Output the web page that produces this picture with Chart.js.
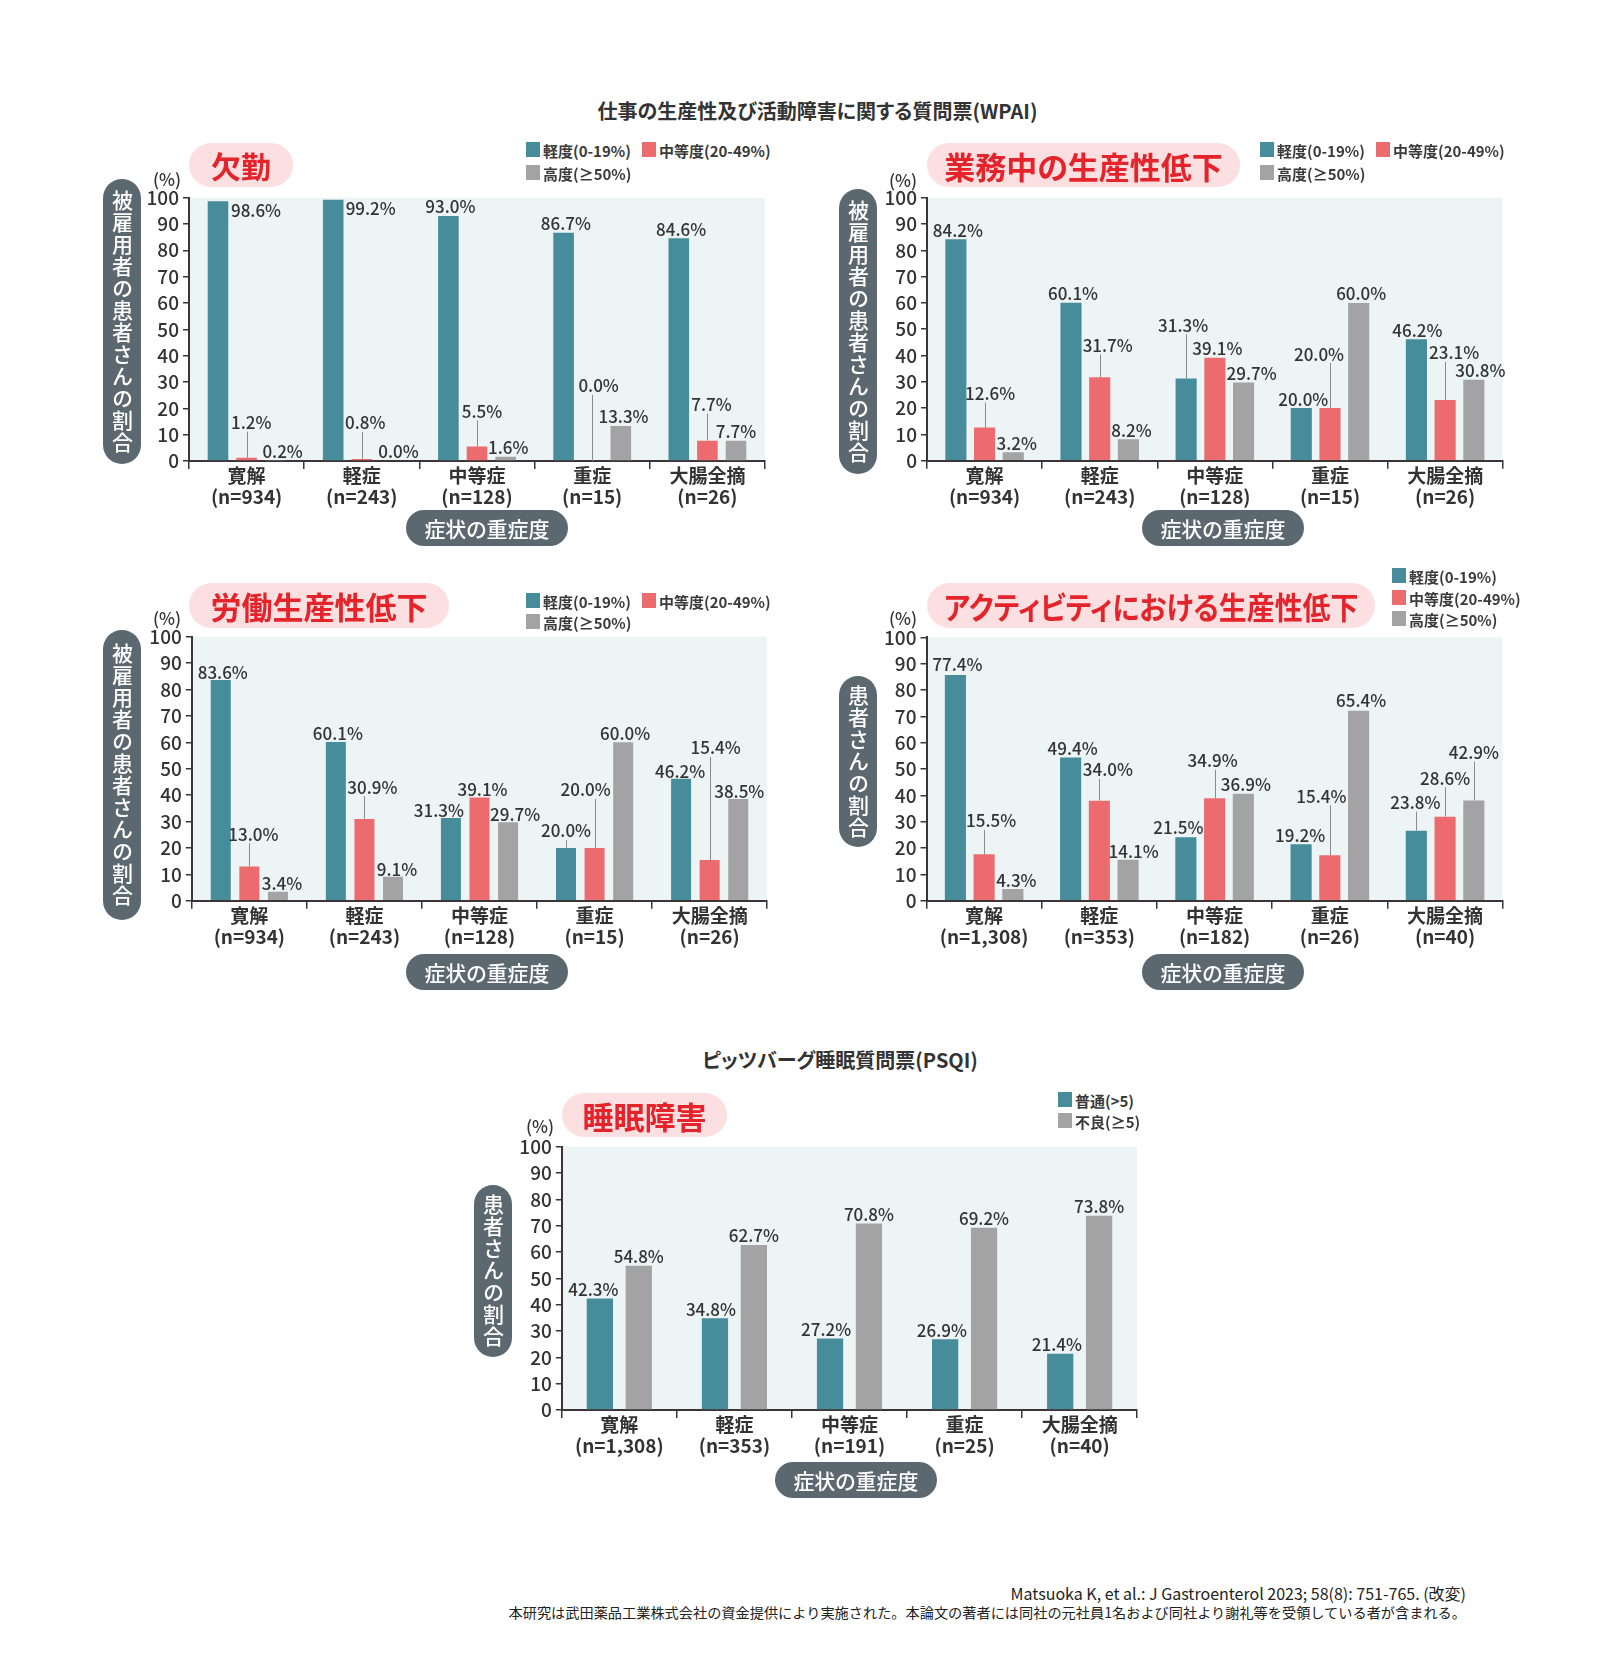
<!DOCTYPE html>
<html><head><meta charset="utf-8">
<script src="https://cdn.jsdelivr.net/npm/chart.js@4.4.1/dist/chart.umd.min.js"></script>
<style>
html,body{margin:0;padding:0;background:#fff;}
#page{position:relative;width:1606px;height:1666px;overflow:hidden;font-family:"Noto Sans CJK JP","Noto Sans",sans-serif;color:#333;font-feature-settings:"palt";}
canvas{position:absolute;}
.ttl{position:absolute;font-weight:700;font-size:20px;white-space:nowrap;text-align:center;color:#333;line-height:1;}
.pill{position:absolute;background:#fce0e1;color:#e4232b;font-weight:700;display:flex;align-items:center;justify-content:center;white-space:nowrap;line-height:1;}
.pill span{display:inline-block;}
.ypill{position:absolute;background:#5c6870;color:#fff;writing-mode:vertical-rl;display:flex;align-items:center;justify-content:center;font-size:21px;font-weight:500;border-radius:19px;letter-spacing:1px;line-height:1;}
.xpill{position:absolute;background:#5c6870;color:#fff;display:flex;align-items:center;justify-content:center;font-size:21px;font-weight:500;border-radius:18px;line-height:1;white-space:nowrap;}
.pct{position:absolute;font-size:17px;font-weight:500;color:#333;transform:translate(-50%,-50%);white-space:nowrap;line-height:1;}
.sw{position:absolute;width:14px;height:15px;}
.lg{position:absolute;font-size:15px;font-weight:700;color:#3a3a3a;white-space:nowrap;line-height:1;transform:translateY(-50%);}
.foot{position:absolute;right:140px;color:#222;white-space:nowrap;line-height:1;transform:translateY(-50%);font-feature-settings:normal;}
</style></head>
<body><div id="page"></div>
<script>
// ---------- DATA ----------
const categories = ['寛解','軽症','中等症','重症','大腸全摘'];
const nWpai = ['(n=934)','(n=243)','(n=128)','(n=15)','(n=26)'];
const nActivity = ['(n=1,308)','(n=353)','(n=182)','(n=26)','(n=40)'];
const nSleep = ['(n=1,308)','(n=353)','(n=191)','(n=25)','(n=40)'];
const yTickValues = [0,10,20,30,40,50,60,70,80,90,100];

const seriesWpai = ['軽度(0-19%)','中等度(20-49%)','高度(≥50%)'];
const seriesSleep = ['普通(>5)','不良(≥5)'];

const absenceMild = [98.6, 99.2, 93.0, 86.7, 84.6];
const absenceModerate = [1.2, 0.8, 5.5, 0.0, 7.7];
const absenceSevere = [0.2, 0.0, 1.6, 13.3, 7.7];

const presenteeMild = [84.2, 60.1, 31.3, 20.0, 46.2];
const presenteeModerate = [12.6, 31.7, 39.1, 20.0, 23.1];
const presenteeSevere = [3.2, 8.2, 29.7, 60.0, 30.8];

const workMild = [83.6, 60.1, 31.3, 20.0, 46.2];
const workModerate = [13.0, 30.9, 39.1, 20.0, 15.4];
const workSevere = [3.4, 9.1, 29.7, 60.0, 38.5];

// activity: bar heights as drawn in the picture, and the printed labels
const activityMild = [85.7, 54.4, 24.1, 21.4, 26.6];
const activityModerate = [17.6, 37.9, 38.9, 17.3, 31.9];
const activitySevere = [4.4, 15.5, 40.6, 72.1, 38.0];
const activityMildLabel = [77.4, 49.4, 21.5, 19.2, 23.8];
const activityModerateLabel = [15.5, 34.0, 34.9, 15.4, 28.6];
const activitySevereLabel = [4.3, 14.1, 36.9, 65.4, 42.9];

const sleepNormal = [42.3, 34.8, 27.2, 26.9, 21.4];
const sleepPoor = [54.8, 62.7, 70.8, 69.2, 73.8];

// ---------- STYLE / LAYOUT ----------
const FONT = '"Noto Sans CJK JP","Noto Sans",sans-serif';
const TEAL = '#468c9b', RED = '#ec6b6e', GRAY = '#a3a3a3', AX = '#3d3535', BG = '#edf4f6';
const page = document.getElementById('page');

function el(cls, css, text){
  const d = document.createElement('div');
  d.className = cls; Object.assign(d.style, css);
  if (text !== undefined) d.textContent = text;
  page.appendChild(d); return d;
}
const pctText = v => v.toFixed(1) + '%';

const bgPlugin = {
  id:'plotBg',
  beforeDraw(chart){
    const {ctx, chartArea:a} = chart;
    ctx.save(); ctx.fillStyle = BG; ctx.fillRect(a.left, a.top, a.right-a.left, a.bottom-a.top); ctx.restore();
  }
};
const labelPlugin = {
  id:'pctLabels',
  afterDatasetsDraw(chart){
    const cfg = chart.options.plugins.pctLabels;
    const ctx = chart.ctx;
    ctx.save();
    ctx.font = '500 17px ' + FONT;
    ctx.fillStyle = '#333'; ctx.textAlign = 'center'; ctx.textBaseline = 'middle';
    chart.data.datasets.forEach((ds, di) => {
      chart.getDatasetMeta(di).data.forEach((bar, i) => {
        const dx = cfg.dx[di][i], lift = cfg.lift[di][i];
        const cy = bar.y - 9 - lift;
        if (lift > 4) {
          ctx.strokeStyle = '#8a8a8a'; ctx.lineWidth = 1;
          ctx.beginPath(); ctx.moveTo(Math.round(bar.x)+0.5, bar.y); ctx.lineTo(Math.round(bar.x)+0.5, cy + 9); ctx.stroke();
        }
        ctx.fillText(cfg.texts[di][i], bar.x + dx, cy);
      });
    });
    ctx.restore();
  }
};

function makePanel(p){
  const c = document.createElement('canvas');
  c.width = p.rect.w; c.height = p.rect.h;
  c.style.left = p.rect.x + 'px'; c.style.top = p.rect.y + 'px';
  page.appendChild(c);
  const yw = p.plot.l - p.rect.x, pr = p.rect.x + p.rect.w - p.plot.r;
  const pt = p.plot.t - p.rect.y, xh = p.rect.y + p.rect.h - p.plot.b;
  new Chart(c, {
    type:'bar',
    data:{
      labels: categories.map((c2,i)=>[c2, p.nLabels[i]]),
      datasets: p.series.map((s,i)=>({label:s, data:p.values[i], backgroundColor:p.colors[i], borderWidth:0,
        categoryPercentage:p.catPct, barPercentage:p.barPct}))
    },
    options:{
      responsive:false, animation:false, devicePixelRatio:1,
      layout:{padding:{top:pt, right:pr, left:0, bottom:0}},
      plugins:{legend:{display:false}, tooltip:{enabled:false},
        pctLabels:{texts:p.texts, dx:p.dx, lift:p.lift}},
      scales:{
        x:{offset:true,
           grid:{offset:true, drawOnChartArea:false, drawTicks:true, tickLength:8, color:AX, lineWidth:1.5},
           border:{display:true, color:AX, width:2},
           ticks:{font:{family:FONT, size:19, weight:'bold', lineHeight:1.12}, color:'#333', padding:-4, autoSkip:false, maxRotation:0, minRotation:0},
           afterFit(s){ s.height = xh; }},
        y:{min:0, max:100,
           afterBuildTicks(s){ s.ticks = yTickValues.map(v=>({value:v})); },
           grid:{drawOnChartArea:false, drawTicks:true, tickLength:6, color:AX, lineWidth:1.5},
           border:{display:true, color:AX, width:2},
           ticks:{font:{family:FONT, size:19, weight:'500'}, color:'#333', padding:4},
           afterFit(s){ s.width = yw; }}
      }
    },
    plugins:[bgPlugin, labelPlugin]
  });
}

// ---------- PANELS ----------
const panels = [
  { rect:{x:140,y:170,w:650,h:345}, plot:{l:189,r:765,t:197.6,b:461},
    series:seriesWpai, colors:[TEAL,RED,GRAY], nLabels:nWpai, catPct:0.745, barPct:0.72,
    values:[absenceMild,absenceModerate,absenceSevere],
    texts:[absenceMild.map(pctText),absenceModerate.map(pctText),absenceSevere.map(pctText)],
    dx:[[38,37.5,2,2.3,2.3],[4.7,3.5,5,6.4,4],[7.4,8,2.7,2.7,0]],
    lift:[[-18,-18,0,0,0],[26,27,26,66,27],[0,0,0,0,0]] },
  { rect:{x:870,y:170,w:660,h:345}, plot:{l:927,r:1502.7,t:197.7,b:460.7},
    series:seriesWpai, colors:[TEAL,RED,GRAY], nLabels:nWpai, catPct:0.748, barPct:0.735,
    values:[presenteeMild,presenteeModerate,presenteeSevere],
    texts:[presenteeMild.map(pctText),presenteeModerate.map(pctText),presenteeSevere.map(pctText)],
    dx:[[2,2,-3,2,1],[5.5,8,2.5,-11,9],[3.5,3,8,2.5,6.5]],
    lift:[[0,0,44,0,0],[25,23,0,45,38],[0,0,0,0,0]] },
  { rect:{x:140,y:610,w:650,h:345}, plot:{l:191.8,r:767.2,t:636.7,b:900.7},
    series:seriesWpai, colors:[TEAL,RED,GRAY], nLabels:nWpai, catPct:0.745, barPct:0.70,
    values:[workMild,workModerate,workSevere],
    texts:[workMild.map(pctText),workModerate.map(pctText),workSevere.map(pctText)],
    dx:[[2,2,-12,0,-1],[4,8,3,-9,6],[4,4,7,2,1]],
    lift:[[-2,-1,-1.5,8,-2],[23,23,-1.5,49,103],[-0.5,-1.5,-1.5,-0.5,-1.5]] },
  { rect:{x:870,y:610,w:660,h:345}, plot:{l:926.5,r:1502.7,t:637.3,b:900.7},
    series:seriesWpai, colors:[TEAL,RED,GRAY], nLabels:nActivity, catPct:0.748, barPct:0.735,
    values:[activityMild,activityModerate,activitySevere],
    texts:[activityMildLabel.map(pctText),activityModerateLabel.map(pctText),activitySevereLabel.map(pctText)],
    dx:[[2,2,-7.5,-1,-1],[7,8.5,-2,-8.5,0],[3.5,5.5,2.5,2.5,0]],
    lift:[[1,0,1,0,19],[24.5,22,28.5,50,29.5],[0,-0.5,0,1,39]] },
  { rect:{x:510,y:1120,w:650,h:345}, plot:{l:561.8,r:1137.2,t:1146.7,b:1410},
    series:seriesSleep, colors:[TEAL,GRAY], nLabels:nSleep, catPct:0.676, barPct:0.675,
    values:[sleepNormal,sleepPoor],
    texts:[sleepNormal.map(pctText),sleepPoor.map(pctText)],
    dx:[[-6.5,-4,-4,-3.3,-3.3],[0,0,0,0,0]],
    lift:[[0,0,0,0,0],[0,0,0,0,0]] }
];
panels.forEach(makePanel);

// ---------- TEXT DECORATIONS ----------
el('ttl', {left:'560px', width:'515px', top:'101px', fontSize:'20px'}, '仕事の生産性及び活動障害に関する質問票(WPAI)');
el('ttl', {left:'640px', width:'400px', top:'1050px', fontSize:'20px'}, 'ピッツバーグ睡眠質問票(PSQI)');

const titlePills = [
  {x:189,y:143,w:104,h:44,fs:30,sx:1,t:'欠勤'},
  {x:927,y:143,w:313,h:44,fs:31,sx:1,t:'業務中の生産性低下'},
  {x:189,y:583,w:260,h:45,fs:31,sx:1,t:'労働生産性低下'},
  {x:927,y:583,w:448,h:45,fs:31,sx:0.9,t:'アクティビティにおける生産性低下'},
  {x:562,y:1093,w:165,h:44,fs:31,sx:1,t:'睡眠障害'}
];
titlePills.forEach(p=>{
  const d = el('pill',{left:p.x+'px',top:p.y+'px',width:p.w+'px',height:p.h+'px',fontSize:p.fs+'px',borderRadius:(p.h/2)+'px'});
  const s = document.createElement('span');
  s.textContent = p.t; s.style.transform = 'scaleX(' + p.sx + ')';
  d.appendChild(s);
});

const yPills = [
  {x:103,y:179,h:285,t:'被雇用者の患者さんの割合'},
  {x:839,y:189,h:285,t:'被雇用者の患者さんの割合'},
  {x:103,y:630,h:290,t:'被雇用者の患者さんの割合'},
  {x:839,y:676,h:171,t:'患者さんの割合'},
  {x:474,y:1185,h:172,t:'患者さんの割合'}
];
yPills.forEach(p=>el('ypill',{left:p.x+'px',top:p.y+'px',width:'38px',height:p.h+'px'},p.t));

const xPills = [{x:406,y:510},{x:1142,y:510},{x:406,y:954},{x:1142,y:954},{x:775,y:1462}];
xPills.forEach(p=>el('xpill',{left:p.x+'px',top:p.y+'px',width:'162px',height:'36px'},'症状の重症度'));

const pctMarks = [{x:167,y:177.5},{x:903,y:178.5},{x:167,y:617},{x:903,y:617},{x:540,y:1125}];
pctMarks.forEach(p=>el('pct',{left:p.x+'px',top:p.y+'px'},'(%)'));

function legend(items){
  items.forEach(it=>{
    el('sw',{left:it.x+'px',top:it.y+'px',background:it.c});
    el('lg',{left:(it.x+17)+'px',top:(it.y+8)+'px'},it.t);
  });
}
legend([{x:526,y:142,c:TEAL,t:seriesWpai[0]},{x:642,y:142,c:RED,t:seriesWpai[1]},{x:526,y:165,c:GRAY,t:seriesWpai[2]}]);
legend([{x:1260,y:142,c:TEAL,t:seriesWpai[0]},{x:1376,y:142,c:RED,t:seriesWpai[1]},{x:1260,y:165,c:GRAY,t:seriesWpai[2]}]);
legend([{x:526,y:593,c:TEAL,t:seriesWpai[0]},{x:642,y:593,c:RED,t:seriesWpai[1]},{x:526,y:614,c:GRAY,t:seriesWpai[2]}]);
legend([{x:1392,y:568,c:TEAL,t:seriesWpai[0]},{x:1392,y:590,c:RED,t:seriesWpai[1]},{x:1392,y:611,c:GRAY,t:seriesWpai[2]}]);
legend([{x:1058,y:1092,c:TEAL,t:seriesSleep[0]},{x:1058,y:1113,c:GRAY,t:seriesSleep[1]}]);

el('foot',{top:'1593px',fontSize:'16px'},'Matsuoka K, et al.: J Gastroenterol 2023; 58(8): 751-765. (改変)');
el('foot',{top:'1611.5px',fontSize:'14.2px'},'本研究は武田薬品工業株式会社の資金提供により実施された。本論文の著者には同社の元社員1名および同社より謝礼等を受領している者が含まれる。');
</script>
</body></html>
